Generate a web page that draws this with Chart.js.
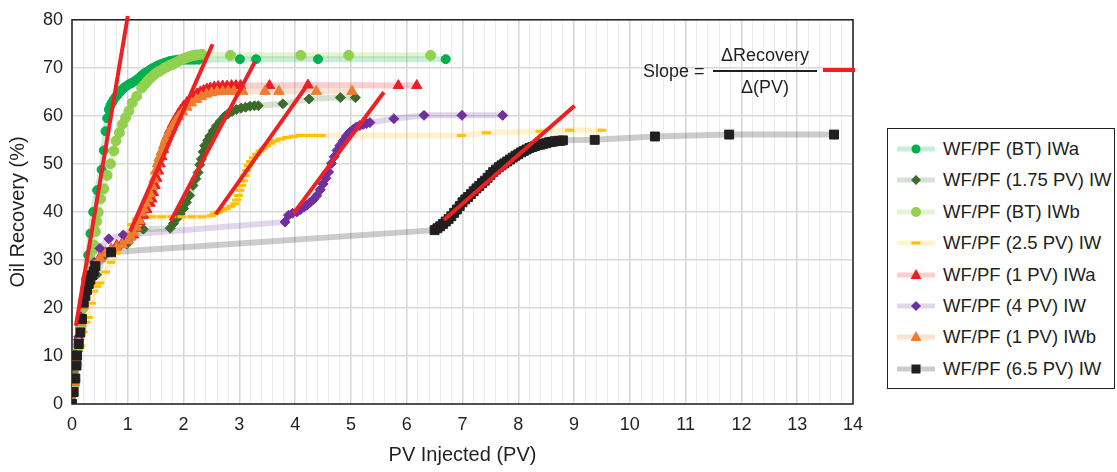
<!DOCTYPE html>
<html><head><meta charset="utf-8">
<script src="https://cdn.jsdelivr.net/npm/chart.js@4.4.0/dist/chart.umd.min.js"></script>
<style>
html,body{margin:0;padding:0;background:#fff;}
#wrap{position:relative;width:1117px;height:472px;font-family:"Liberation Sans",Arial,sans-serif;color:#231f20;overflow:hidden;}
canvas{position:absolute;left:0;top:0;}
#legend{position:absolute;left:887px;top:128px;width:228px;height:261px;border:1.5px solid #231f20;box-sizing:border-box;background:#fff;}
.item{position:absolute;left:9px;height:20px;display:flex;align-items:center;font-size:18.5px;white-space:nowrap;}
.item svg{margin-right:8px;flex:none;}
.txt{position:absolute;font-size:18px;white-space:nowrap;line-height:20px;}
</style></head>
<body><div id="wrap"><canvas id="c" width="1117" height="472"></canvas>
<div class="txt" style="left:643px;top:61px;">Slope =</div>
<div class="txt" style="left:713px;top:45px;width:104px;text-align:center;">ΔRecovery</div>
<div style="position:absolute;left:713px;top:70px;width:104px;height:2px;background:#231f20;"></div>
<div class="txt" style="left:713px;top:77px;width:104px;text-align:center;">Δ(PV)</div>
<div style="position:absolute;left:823px;top:68px;width:32px;height:4px;background:#ed2024;"></div>
<div id="legend"></div>
</div>
<script>
// ---- data ----
const seriesLabels = ["WF/PF (BT) IWa","WF/PF (1.75 PV) IW","WF/PF (BT) IWb","WF/PF (2.5 PV) IW","WF/PF (1 PV) IWa","WF/PF (4 PV) IW","WF/PF (1 PV) IWb","WF/PF (6.5 PV) IW"];
const xTickValues = [0,1,2,3,4,5,6,7,8,9,10,11,12,13,14];
const yTickValues = [0,10,20,30,40,50,60,70,80];

const btIWaX = [0,0.04,0.08,0.12,0.16,0.2,0.25,0.29,0.33,0.38,0.45,0.53,0.57,0.60,0.63,0.66,0.69,0.72,0.75,0.78,0.81,0.84,0.87,0.90,0.93,0.96,1.00,1.04,1.08,1.12,1.16,1.20,1.24,1.28,1.32,1.36,1.40,1.44,1.48,1.52,1.56,1.60,1.65,1.70,1.75,1.80,1.85,1.90,1.95,2.00,2.05,2.10,2.15,2.20,2.27,3.01,3.30,4.41,6.70];
const btIWaY = [0,4,9,13,17,21,26,31,35.5,40,44.5,48.8,52.8,56.8,59.5,61.3,62.2,62.8,63.4,63.9,64.3,64.7,65.1,65.5,65.8,66.1,66.4,66.7,66.9,67.2,67.5,67.9,68.3,68.7,69.0,69.3,69.6,69.9,70.1,70.4,70.6,70.8,71.0,71.2,71.4,71.5,71.6,71.7,71.7,71.7,71.7,71.7,71.7,71.7,71.7,71.8,71.8,71.8,71.8];

const pv175X = [0,0.05,0.1,0.15,0.2,0.25,0.3,0.44,0.6,0.75,0.98,1.28,1.76,1.82,1.88,1.94,2.00,2.05,2.11,2.17,2.22,2.26,2.29,2.32,2.35,2.38,2.43,2.47,2.53,2.59,2.66,2.74,2.80,2.87,2.95,3.03,3.11,3.19,3.27,3.34,3.78,4.25,4.81,5.08];
const pv175Y = [0,5,11,16,20,23.5,25.8,26.9,31.2,32.2,33.3,36.4,36.6,37.6,38.6,39.6,40.7,42,43.4,45.5,46.9,48.2,49.8,51,52.5,53.8,54.9,55.8,56.9,57.9,58.9,59.9,60.5,60.9,61.3,61.6,61.8,62.0,62.1,62.1,62.5,63.5,63.8,63.8];

const btIWbX = [0,0.04,0.08,0.12,0.16,0.2,0.24,0.28,0.32,0.36,0.39,0.42,0.44,0.47,0.51,0.57,0.63,0.69,0.75,0.79,0.85,0.90,0.96,1.02,1.08,1.16,1.25,1.30,1.35,1.40,1.45,1.50,1.55,1.60,1.65,1.70,1.75,1.80,1.85,1.90,1.95,2.00,2.05,2.10,2.15,2.20,2.25,2.33,2.84,4.10,4.96,6.43];
const btIWbY = [0,4,8,12,16,20,24,27,30,32,33.1,35.9,38,39.9,42.7,44.8,47.6,50,52.7,54.8,56.5,58.2,59.6,61,62.7,64.1,65.8,66.5,67.2,67.8,68.3,68.8,69.2,69.5,69.9,70.2,70.5,70.7,71.0,71.3,71.6,71.9,72.1,72.3,72.5,72.6,72.7,72.8,72.6,72.6,72.6,72.6];

const pv25X = [0,0.05,0.1,0.15,0.2,0.25,0.29,0.35,0.39,0.44,0.5,0.6,0.7,0.8,0.9,1.0,1.07,1.15,1.25,1.43,1.61,1.79,1.97,2.15,2.33,2.5,2.56,2.62,2.70,2.77,2.85,2.92,2.95,2.98,3.01,3.04,3.07,3.10,3.13,3.16,3.20,3.25,3.31,3.37,3.43,3.49,3.56,3.64,3.74,3.85,3.97,4.09,4.2,4.3,4.4,4.47,6.98,7.43,8.39,8.92,9.5];
const pv25Y = [0,4,8,12,15,17,18,21,23.5,24.5,25.2,27.5,29.5,31.5,33.5,35.5,37.4,38.5,39,39,39,39,39,39,39,39.2,39.7,40,40.4,40.7,41.2,41.7,42.5,43.4,44.5,45.5,46.5,47.6,48.6,49.6,50.5,51.3,52.0,52.7,53.2,53.7,54.3,54.8,55.2,55.5,55.7,55.9,55.9,55.9,55.9,55.9,55.9,56.5,56.8,57,57];

const pv1IWaX = [0,0.04,0.08,0.12,0.16,0.2,0.25,0.3,0.4,0.5,0.6,0.7,0.8,0.9,1.0,1.05,1.10,1.16,1.22,1.28,1.34,1.40,1.43,1.46,1.49,1.52,1.55,1.58,1.61,1.64,1.67,1.71,1.75,1.80,1.85,1.90,1.95,2.00,2.06,2.12,2.18,2.24,2.30,2.36,2.42,2.48,2.55,2.62,2.70,2.78,2.86,2.94,3.02,3.54,4.23,5.85,6.18];
const pv1IWaY = [0,5,10,14,18,21,24,26.5,29,30.5,31.5,32.2,33,33.5,34.2,34.8,35.2,36.6,38,39.3,40.5,41.8,42.7,44,45.5,47,48.5,50,51.5,53,54.5,55.8,57,58.2,59.3,60.3,61.2,62,62.8,63.5,64.1,64.6,65,65.3,65.6,65.8,66,66.1,66.2,66.2,66.3,66.3,66.3,66.3,66.4,66.3,66.3];

const pv4X = [0,0.04,0.08,0.12,0.16,0.2,0.25,0.3,0.4,0.5,0.66,0.92,3.82,3.88,3.95,4.03,4.10,4.16,4.21,4.27,4.33,4.39,4.45,4.50,4.55,4.60,4.65,4.70,4.75,4.80,4.86,4.92,4.98,5.04,5.10,5.16,5.22,5.28,5.34,5.77,6.31,6.99,7.72];
const pv4Y = [0,5,10,14,18,21,24,26.5,29.5,32.4,34.4,35.2,37.9,39.3,39.7,40,40.5,41,41.4,42,42.6,43.4,44.6,45.8,47,48.3,50.1,51.5,52.8,53.8,54.8,55.8,56.6,57.2,57.7,58,58.2,58.4,58.6,59.4,60.1,60.1,60.1];

const pv1IWbX = [0,0.04,0.08,0.12,0.16,0.2,0.25,0.3,0.4,0.5,0.6,0.7,0.8,0.9,1.0,1.05,1.10,1.15,1.20,1.25,1.28,1.32,1.36,1.40,1.44,1.47,1.50,1.53,1.56,1.60,1.64,1.68,1.73,1.79,1.85,1.91,1.98,2.06,2.14,2.23,2.32,2.41,2.50,2.60,2.70,2.80,2.90,3.06,3.46,3.71,4.38,5.02];
const pv1IWbY = [0,4.5,9,13,17,20.5,23.5,26,28.8,30.3,31.3,32,32.6,33.2,34,34.8,35.6,36.8,38.2,39.8,40.7,41.8,42.8,43.8,45.3,46.8,48.5,50,51.2,52.5,53.8,55.1,56.3,57.6,58.8,59.8,60.8,61.8,62.7,63.4,64,64.5,64.8,65,65.1,65.1,65.1,65.1,65.1,65.1,65.1,65.1];

const pv65X = [0,0.03,0.06,0.08,0.09,0.12,0.15,0.18,0.21,0.24,0.27,0.30,0.33,0.36,0.39,0.42,0.70,6.50,6.55,6.60,6.65,6.70,6.75,6.80,6.85,6.90,6.95,7.00,7.05,7.10,7.15,7.20,7.25,7.30,7.35,7.40,7.45,7.50,7.55,7.60,7.65,7.70,7.75,7.80,7.85,7.90,7.95,8.00,8.05,8.10,8.15,8.20,8.25,8.30,8.35,8.40,8.45,8.50,8.55,8.60,8.65,8.70,8.75,8.80,9.37,10.45,11.78,13.66];
const pv65Y = [0,2.5,5.3,8,10.1,12.5,14.9,17.7,21.1,22.5,23.8,25,25.9,26.8,27.6,28.7,31.6,36.2,36.6,37,37.5,38,38.5,39.1,39.8,40.5,41.2,42,42.6,43.1,43.7,44.3,44.9,45.4,46,46.5,47.1,47.7,48.3,48.8,49.3,49.7,50.1,50.5,50.9,51.3,51.7,52,52.4,52.7,53,53.3,53.5,53.7,53.9,54,54.2,54.3,54.5,54.6,54.7,54.8,54.8,54.9,55,55.7,56.1,56.1];

// tangent (slope) lines: start and end points
const tangentX0 = [0.07, 1.04, 1.77, 2.575, 3.966, 6.667];
const tangentY0 = [16.3, 35.9, 38.1, 39.5, 39.6, 38.3];
const tangentX1 = [1.0, 2.52, 3.28, 4.235, 5.59, 9.01];
const tangentY1 = [80.8, 74.9, 71.3, 66.7, 64.9, 62.1];

// ---- styles ----
const seriesX = [btIWaX, pv175X, btIWbX, pv25X, pv1IWaX, pv4X, pv1IWbX, pv65X];
const seriesY = [btIWaY, pv175Y, btIWbY, pv25Y, pv1IWaY, pv4Y, pv1IWbY, pv65Y];
const styles = [
  {marker:'#00b050', line:'rgba(0,176,80,0.22)', shape:'circle', r:4.5},
  {marker:'#3d6b2b', line:'rgba(61,107,43,0.2)', shape:'rectRot', r:5},
  {marker:'#92d050', line:'rgba(146,208,80,0.25)', shape:'circle', r:5},
  {marker:'#ffc000', line:'rgba(255,192,0,0.2)', shape:'line', r:4.5},
  {marker:'#ee1c25', line:'rgba(238,28,37,0.22)', shape:'triangle', r:6},
  {marker:'#7030a0', line:'rgba(112,48,160,0.2)', shape:'rectRot', r:5},
  {marker:'#ed7d31', line:'rgba(237,125,49,0.22)', shape:'triangle', r:6},
  {marker:'#231f20', line:'rgba(0,0,0,0.2)', shape:'rect', r:6.3}
];

const pts = (xs, ys) => xs.map((x, i) => ({x: x, y: ys[i]}));
const datasets = [];
for (let i = 0; i < tangentX0.length; i++) {
  datasets.push({data: [{x: tangentX0[i], y: tangentY0[i]}, {x: tangentX1[i], y: tangentY1[i]}],
    showLine: true, borderColor: '#ed2024', borderWidth: 4, pointRadius: 0, clip: false, order: 0, borderCapStyle: 'butt'});
}
styles.forEach((s, i) => {
  datasets.push({label: seriesLabels[i], data: pts(seriesX[i], seriesY[i]), showLine: false,
    pointStyle: s.shape, pointRadius: s.r, pointBackgroundColor: s.marker, pointBorderColor: s.marker,
    pointBorderWidth: s.shape === 'line' ? 3 : 1, order: 100 - i});
  datasets.push({data: pts(seriesX[i], seriesY[i]), showLine: true, borderColor: s.line, borderWidth: 6,
    pointRadius: 0, order: 200 - i, tension: 0});
});

const frame = {
  id: 'frame',
  beforeDatasetsDraw(chart) {
    const a = chart.chartArea, c = chart.ctx;
    c.save(); c.strokeStyle = '#231f20'; c.lineWidth = 1.5;
    c.strokeRect(a.left, a.top, a.right - a.left, a.bottom - a.top);
    c.restore();
  }
};

const fontTick = {family: '"Liberation Sans", Arial, sans-serif', size: 18};
const fontTitle = {family: '"Liberation Sans", Arial, sans-serif', size: 20};

new Chart(document.getElementById('c'), {
  type: 'scatter',
  data: {datasets: datasets},
  plugins: [frame],
  options: {
    responsive: false, animation: false, events: [],
    layout: {padding: {left: 0, right: 264, top: 16, bottom: 0}},
    plugins: {legend: {display: false}, tooltip: {enabled: false}},
    scales: {
      x: {
        type: 'linear', min: 0, max: 14,
        afterBuildTicks: (s) => { const t = []; for (let k = 0; k <= 70; k++) t.push({value: k / 5}); s.ticks = t; },
        afterFit: (s) => { s.height = 68; },
        ticks: {autoSkip: false, maxRotation: 0, minRotation: 0, padding: 10, color: '#231f20', font: fontTick,
          callback: (v) => { const r = Math.round(v); return (Math.abs(v - r) < 1e-6 && xTickValues.includes(r)) ? String(r) : ''; }},
        grid: {drawTicks: false,
          color: (ctx) => { const v = ctx.tick ? ctx.tick.value : 0; return Math.abs(v - Math.round(v)) < 1e-6 ? '#d6d6d6' : '#ececec'; },
          lineWidth: (ctx) => { const v = ctx.tick ? ctx.tick.value : 0; return Math.abs(v - Math.round(v)) < 1e-6 ? 1.5 : 1; }},
        border: {display: false},
        title: {display: true, text: 'PV Injected (PV)', color: '#231f20', font: fontTitle, padding: {top: 0, bottom: 5}}
      },
      y: {
        type: 'linear', min: 0, max: 80,
        afterBuildTicks: (s) => { s.ticks = yTickValues.map(v => ({value: v})); },
        afterFit: (s) => { s.width = 72; },
        ticks: {padding: 9, color: '#231f20', font: fontTick},
        grid: {drawTicks: false, color: '#d9d9d9', lineWidth: 1.5},
        border: {display: false},
        title: {display: true, text: 'Oil Recovery (%)', color: '#231f20', font: fontTitle, padding: {top: 6, bottom: 0}}
      }
    }
  }
});

// ---- HTML legend ----
function markerSvg(s) {
  const cx = 19, cy = 10, col = s.marker;
  let m = '';
  if (s.shape === 'circle') m = `<circle cx="${cx}" cy="${cy}" r="${s.r}" fill="${col}"/>`;
  else if (s.shape === 'rectRot') m = `<polygon points="${cx},${cy-5} ${cx+5},${cy} ${cx},${cy+5} ${cx-5},${cy}" fill="${col}"/>`;
  else if (s.shape === 'triangle') m = `<polygon points="${cx},${cy-6} ${cx+5.5},${cy+4} ${cx-5.5},${cy+4}" fill="${col}"/>`;
  else if (s.shape === 'line') m = `<rect x="${cx-4.5}" y="${cy-1.5}" width="9" height="3" fill="${col}"/>`;
  else m = `<rect x="${cx-4.5}" y="${cy-4.5}" width="9" height="9" fill="${col}"/>`;
  return `<svg width="38" height="20"><line x1="0" y1="${cy}" x2="38" y2="${cy}" stroke="${s.line}" stroke-width="5"/>${m}</svg>`;
}
const lg = document.getElementById('legend');
seriesLabels.forEach((name, i) => {
  const d = document.createElement('div');
  d.className = 'item';
  d.style.top = (10 + i * 31.4) + 'px';
  d.innerHTML = markerSvg(styles[i]) + '<span>' + name + '</span>';
  lg.appendChild(d);
});
</script>
</body></html>
